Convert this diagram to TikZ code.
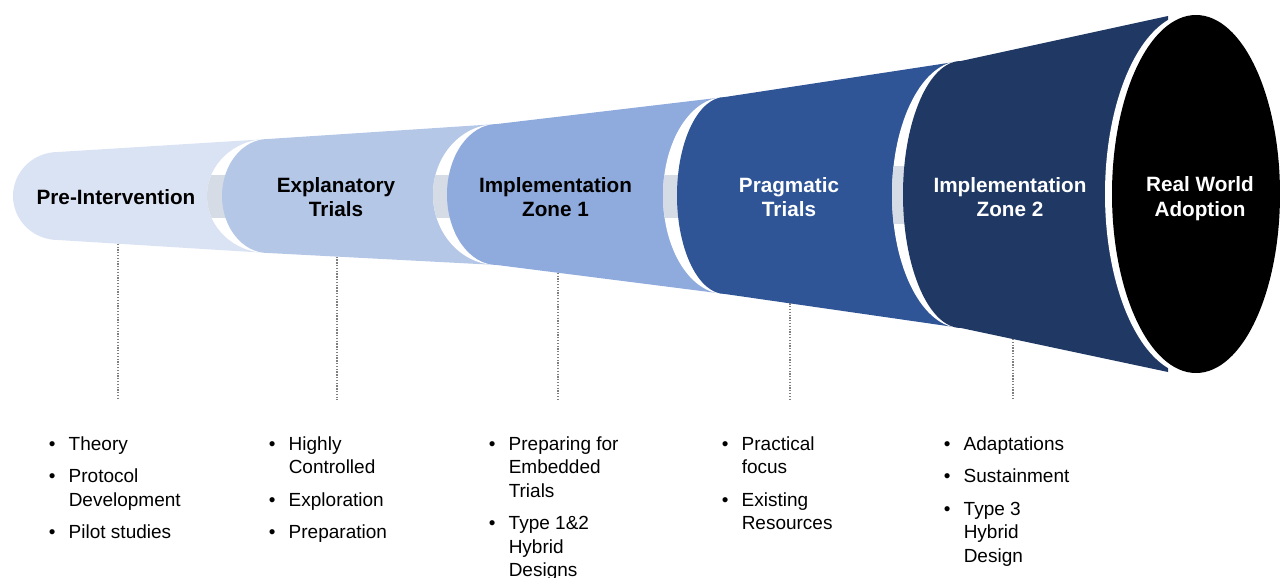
\documentclass[tikz,border=0pt]{standalone}
\usepackage{fontspec}
\setmainfont{Liberation Sans}
\definecolor{cA}{HTML}{DAE3F3}
\definecolor{cB}{HTML}{B4C7E7}
\definecolor{cC}{HTML}{8FAADC}
\definecolor{cD}{HTML}{2F5597}
\definecolor{cE}{HTML}{203864}
\definecolor{bandgray}{HTML}{D6DCE5}
\definecolor{leadergray}{HTML}{7F7F7F}
\tikzset{
  lbl/.style={font=\fontsize{20.7}{24.5}\selectfont\bfseries, align=center, inner sep=0pt},
  blist/.style={anchor=base west, inner sep=0pt, font=\fontsize{19}{23.5}\selectfont},
  leader/.style={draw=leadergray, line width=1.3pt, dash pattern=on 1.3pt off 1.5pt},
  band/.style={fill=bandgray},
}
\newcommand{\bitems}[1]{\begin{tabular}[t]{@{}l@{\hspace{13.2pt}}l@{}}#1\end{tabular}}
\begin{document}
\begin{tikzpicture}[x=1pt,y=1pt]
\useasboundingbox (0,0) rectangle (1280,-578);
% key points of the funnel
\coordinate (T1) at (58,-152);  \coordinate (B1) at (58,-240);
\coordinate (T2) at (268,-139); \coordinate (B2) at (268,-253);
\coordinate (T3) at (497,-124); \coordinate (B3) at (497,-265);
\coordinate (T4) at (725,-97);  \coordinate (B4) at (725,-294);
\coordinate (T5) at (961,-61);  \coordinate (B5) at (961,-328);
\coordinate (T6) at (1168,-16); \coordinate (B6) at (1168,-372);

% segment 1
\fill[cA] (T1) arc[start angle=90,end angle=270,x radius=45,y radius=44] -- (B2) -- (T2) -- cycle;

% segment 2
\fill[white] (T2) arc[start angle=90,end angle=270,x radius=61,y radius=57] -- cycle;
\begin{scope}
\clip (T2) arc[start angle=90,end angle=270,x radius=61,y radius=57] -- cycle;
\fill[band] (200,-175) rectangle (268,-218);
\end{scope}
\fill[cB] (T2) arc[start angle=90,end angle=270,x radius=46,y radius=57] -- (B3) -- (T3) -- cycle;

% segment 3
\fill[white] (T3) arc[start angle=90,end angle=270,x radius=64,y radius=70.5] -- cycle;
\begin{scope}
\clip (T3) arc[start angle=90,end angle=270,x radius=64,y radius=70.5] -- cycle;
\fill[band] (425,-175) rectangle (497,-218);
\end{scope}
\fill[cC] (T3) arc[start angle=90,end angle=270,x radius=50,y radius=70.5] -- (B4) -- (T4) -- cycle;

% segment 4
\fill[white] (T4) arc[start angle=90,end angle=270,x radius=62,y radius=98.5] -- cycle;
\begin{scope}
\clip (T4) arc[start angle=90,end angle=270,x radius=62,y radius=98.5] -- cycle;
\fill[band] (655,-175) rectangle (725,-218);
\end{scope}
\fill[cD] (T4) arc[start angle=90,end angle=270,x radius=48,y radius=98.5] -- (B5) -- (T5) -- cycle;

% segment 5
\fill[white] (T5) arc[start angle=90,end angle=270,x radius=69,y radius=133.5] -- cycle;
\begin{scope}
\clip (T5) arc[start angle=90,end angle=270,x radius=69,y radius=133.5] -- cycle;
\fill[band] (885,-166) rectangle (961,-224);
\end{scope}
\fill[cE] (T5) arc[start angle=90,end angle=270,x radius=58,y radius=133.5] -- (B6) -- (T6) -- cycle;

% end ellipse
\fill[white] (1192,-194) ellipse[x radius=87,y radius=181];
\fill[black] (1196,-194) ellipse[x radius=84,y radius=179];

% labels
\node[lbl] (l1) at (116,-197) {Pre-Intervention};
\node[lbl] (l2) at (336,-197) {Explanatory\\Trials};
\node[lbl] (l3) at (555.5,-197) {Implementation\\Zone 1};
\node[lbl, text=white] (l4) at (789,-197) {Pragmatic\\Trials};
\node[lbl, text=white] (l5) at (1010,-197) {Implementation\\Zone 2};
\node[lbl, text=white] (l6) at (1200,-198.5) {Real World\\Adoption};

% leader lines
\path (B1) -- (B2) coordinate[pos=0.2857] (d1);
\path (B2) -- (B3) coordinate[pos=0.3013] (d2);
\path (B3) -- (B4) coordinate[pos=0.2675] (d3);
\path (B4) -- (B5) coordinate[pos=0.2754] (d4);
\path (B5) -- (B6) coordinate[pos=0.2512] (d5);
\coordinate (e1) at (d1 |- 0,-400);
\coordinate (e2) at (d2 |- 0,-400);
\coordinate (e3) at (d3 |- 0,-400);
\coordinate (e4) at (d4 |- 0,-400);
\coordinate (e5) at (d5 |- 0,-400);
\draw[leader] (d1) -- (e1);
\draw[leader] (d2) -- (e2);
\draw[leader] (d3) -- (e3);
\draw[leader] (d4) -- (e4);
\draw[leader] (d5) -- (e5);

% bullet lists
\node[blist] (c1) at (48.7,-450) {\bitems{• & Theory\\[9pt] • & Protocol\\ & Development\\[9pt] • & Pilot studies}};
\node[blist] (c2) at (268.7,-450) {\bitems{• & Highly\\ & Controlled\\[9pt] • & Exploration\\[9pt] • & Preparation}};
\node[blist] (c3) at (488.7,-450) {\bitems{• & Preparing for\\ & Embedded\\ & Trials\\[9pt] • & Type 1\&2\\ & Hybrid\\ & Designs}};
\node[blist] (c4) at (721.7,-450) {\bitems{• & Practical\\ & focus\\[9pt] • & Existing\\ & Resources}};
\node[blist] (c5) at (943.7,-450) {\bitems{• & Adaptations\\[9pt] • & Sustainment\\[9pt] • & Type 3\\ & Hybrid\\ & Design}};
\end{tikzpicture}
\end{document}
